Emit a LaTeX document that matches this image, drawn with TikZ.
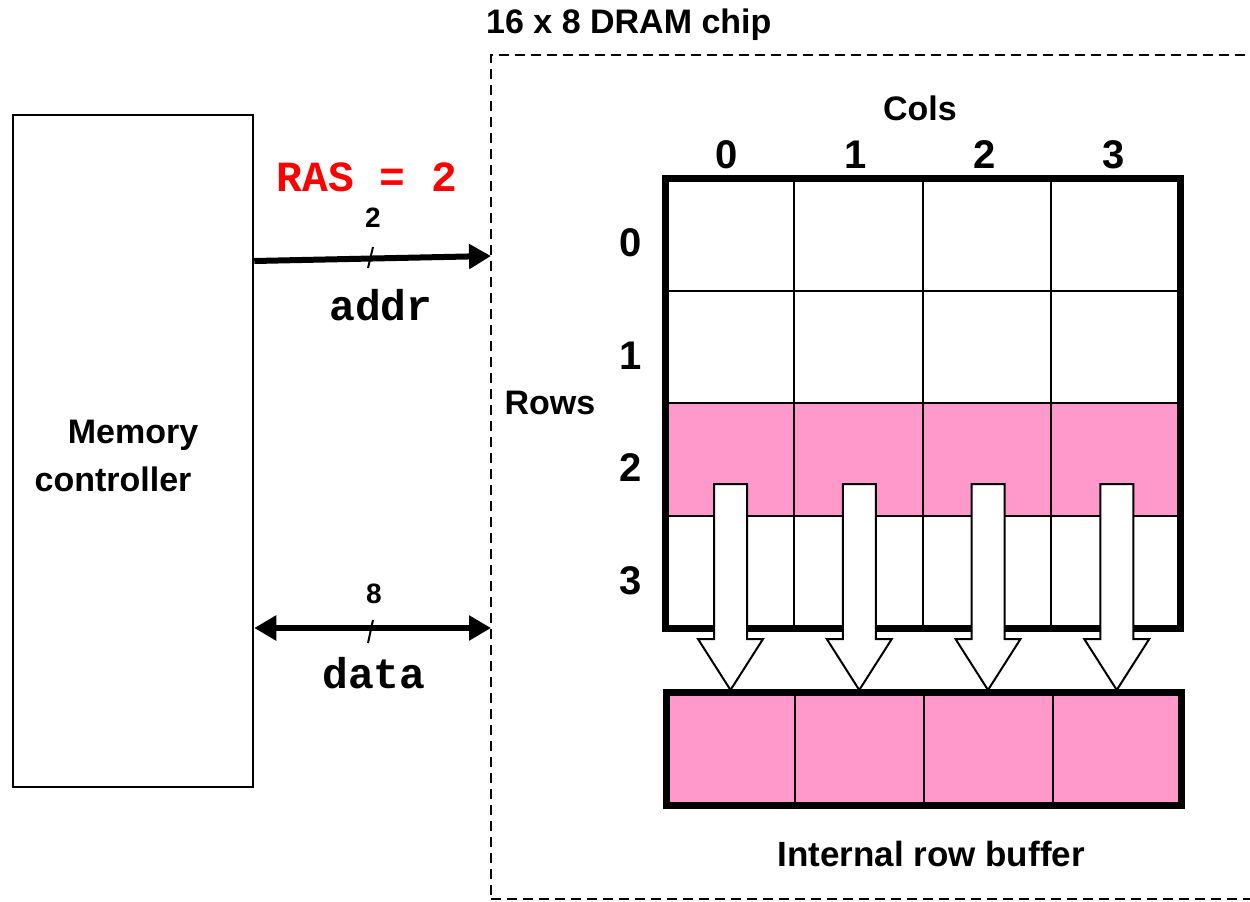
\documentclass[tikz,border=0pt]{standalone}
\usepackage{fontspec}
\setmainfont{Liberation Sans}
\setmonofont{Liberation Mono}
\usetikzlibrary{arrows.meta, positioning}

\definecolor{rowpink}{RGB}{255,153,204}

\tikzset{
	lbl/.style={font=\fontsize{34}{48}\selectfont\bfseries, inner sep=0pt},
	idx/.style={font=\fontsize{40}{44}\selectfont\bfseries, inner sep=0pt},
	buswd/.style={font=\fontsize{28}{30}\selectfont\bfseries, inner sep=0pt},
	sig/.style={font=\fontsize{43}{46}\selectfont\ttfamily\bfseries, inner sep=0pt},
	cell/.style={draw, line width=2pt, minimum width=128.75pt, minimum height=112.5pt, inner sep=0pt, outer sep=0pt},
	bus/.style={line width=6pt, >={Triangle[length=22pt,width=24pt]}},
	pullarrow/.style={draw, line width=2pt, fill=white, line join=miter},
}

\begin{document}
\begin{tikzpicture}[x=1pt, y=-1pt]

	\useasboundingbox (0,0) rectangle (1250,902);

	% chip boundary
	\node[draw, line width=2pt, dash pattern=on 10pt off 6pt, minimum width=771pt, minimum height=844pt, inner sep=0pt, outer sep=0pt] (chip) at (876.5,477) {};
	\node[lbl, anchor=base west] (title) at (486,33) {16 x 8 DRAM chip};

	% controller
	\node[draw, line width=2.5pt, minimum width=240pt, minimum height=672pt] (mc) at (133,451) {};
	\node[lbl, align=center] (mc-lbl) at (113,456) {\hspace*{40pt}Memory\\controller};

	% address bus
	\draw[bus, ->] (mc.east |- 0,261) -- (chip.west |- 0,256);
	\draw[line width=2pt] (368,268) -- (373,247);
	\node[buswd] (addr-w) at (373,218) {2};
	\node[sig] (addr) at (381,305) {addr};
	\node[sig, text=red] (ras) at (367,177) {RAS = 2};

	% data bus
	\draw[bus, <->] (mc.east |- 0,628) -- (chip.west |- 0,628);
	\draw[line width=2pt] (368,643) -- (373,620);
	\node[buswd] (data-w) at (374,594) {8};
	\node[sig] (data) at (374,673) {data};

	% array
	\foreach \r in {0,...,3}
		\foreach \c in {0,...,3}
			\node[cell] (cell-\r-\c) at ({729.4+128.75*\c},{234.25+112.5*\r}) {};
	\foreach \c in {0,...,3}
		\node[cell, fill=rowpink] (cell-2-\c) at ({729.4+128.75*\c},459.25) {};
	\draw[line width=7pt] (cell-0-0.north west) rectangle (cell-3-3.south east);

	\node[lbl] (cols) at (920,108) {Cols};
	\node[lbl] (rows) at (550,403) {Rows};
	\foreach \c in {0,...,3}
		\node[idx] (col-\c) at ({727+128.75*\c},155) {\c};
	\foreach \r in {0,...,3}
		\node[idx] (row-\r) at (631,{243+112.5*\r}) {\r};

	% row 2 into the buffer
	\foreach \c in {0,...,3}
		\draw[pullarrow] ({730.5+128.75*\c-16.5},484) -- ++(33,0) -- ++(0,155) -- ++(16,0)
			-- ++(-32.5,51) -- ++(-32.5,-51) -- ++(16,0) -- cycle;

	% buffer
	\foreach \c in {0,...,3}
		\node[cell, fill=rowpink, minimum height=113pt] (buf-\c) at ({731+128.75*\c},748.5) {};
	\draw[line width=7pt] (buf-0.north west) rectangle (buf-3.south east);
	\node[lbl, font=\fontsize{35}{40}\selectfont\bfseries, below=36pt of buf-1.south east, xshift=7pt] (buf) {Internal row buffer};

\end{tikzpicture}
\end{document}
